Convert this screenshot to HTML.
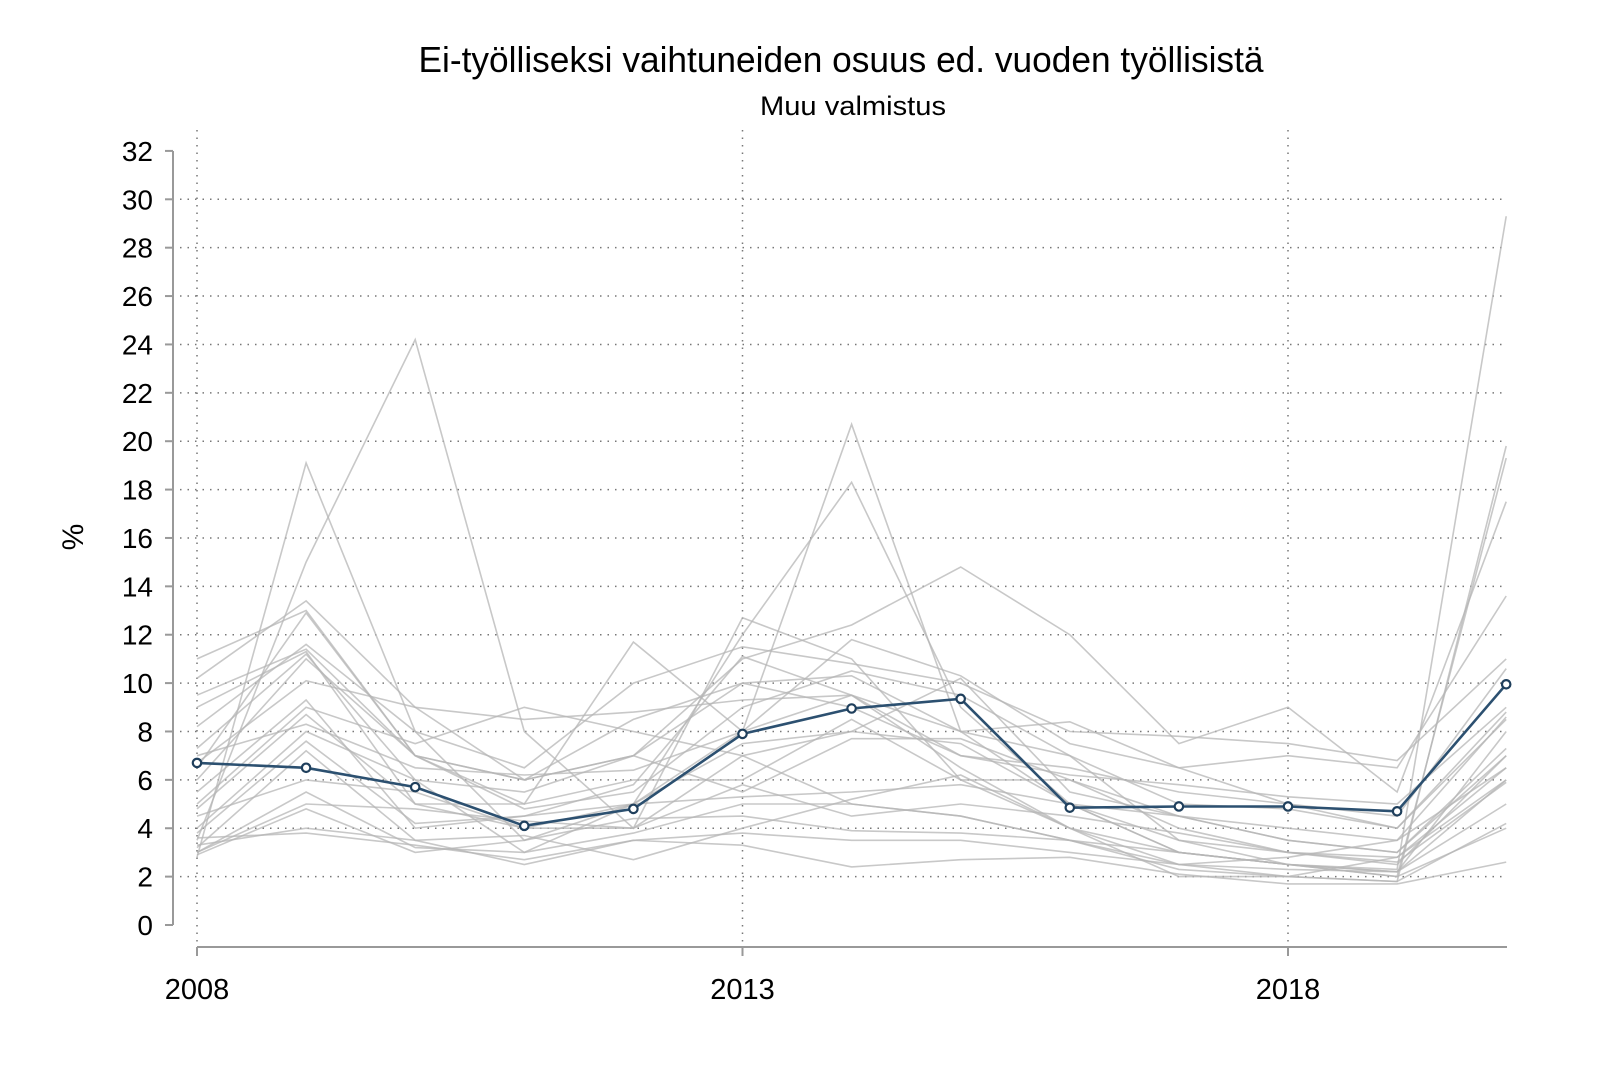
<!DOCTYPE html>
<html><head><meta charset="utf-8"><style>
html,body{margin:0;padding:0;background:#fff}
svg{display:block;font-family:"Liberation Sans",Arial,sans-serif}
</style></head><body>
<svg id="c" width="1600" height="1067" viewBox="0 0 1600 1067" xmlns="http://www.w3.org/2000/svg">
<rect width="1600" height="1067" fill="#fff"/>
<text x="841" y="72" font-size="36" text-anchor="middle" fill="#000" textLength="845" lengthAdjust="spacingAndGlyphs">Ei-työlliseksi vaihtuneiden osuus ed. vuoden työllisistä</text>
<text x="853" y="115" font-size="27" text-anchor="middle" fill="#000" textLength="186" lengthAdjust="spacingAndGlyphs">Muu valmistus</text>
<text transform="translate(83,537) rotate(-90)" font-size="30" text-anchor="middle" fill="#000">%</text>
<g id="grid"></g>
<g id="gray" fill="none" stroke="#b5b5b5" stroke-width="1.6" stroke-opacity="0.75"></g>
<g id="axes"></g>
<g id="main"></g>
</svg>
<script>
const NS="http://www.w3.org/2000/svg";
const X=y=>197+(y-2008)*109.1, Y=v=>925-v*24.19;
function el(p,t,a,txt){const e=document.createElementNS(NS,t);for(const k in a)e.setAttribute(k,a[k]);if(txt!==undefined)e.textContent=txt;p.appendChild(e);return e;}
const g=document.getElementById('grid'),ax=document.getElementById('axes');
for(let v=2;v<=30;v+=2)el(g,'line',{x1:180,x2:1506,y1:Y(v),y2:Y(v),stroke:'#777','stroke-width':1.5,'stroke-dasharray':'1.5,6'});
for(const yr of [2008,2013,2018])el(g,'line',{x1:X(yr),x2:X(yr),y1:130,y2:947,stroke:'#777','stroke-width':1.5,'stroke-dasharray':'1.5,6'});
el(ax,'line',{x1:173,x2:173,y1:151,y2:925,stroke:'#999','stroke-width':2});
for(let v=0;v<=32;v+=2){el(ax,'line',{x1:165,x2:173,y1:Y(v),y2:Y(v),stroke:'#999','stroke-width':2});
el(ax,'text',{x:153,y:Y(v)+10,'font-size':28,'text-anchor':'end',fill:'#000'},v);}
el(ax,'line',{x1:197,x2:1507,y1:947,y2:947,stroke:'#999','stroke-width':2});
for(const yr of [2008,2013,2018]){el(ax,'line',{x1:X(yr),x2:X(yr),y1:947,y2:956,stroke:'#999','stroke-width':2});
el(ax,'text',{x:X(yr),y:999,'font-size':29,'text-anchor':'middle',fill:'#000'},yr);}
const S=[
[2.8,19.1,8,3.5,5,8,20.7,8,5,3,2.5,2.3,29.3],
[3.5,15,24.2,8,4,12.7,11,6,4,2,2,1.8,19.8],
[9,11.3,5,4,5,12,18.3,9,5,3,2.5,2,19.3],
[10.2,13.4,9,6,7,11,12.4,14.8,12,7.5,9,5.5,17.5],
[11,13,7,5,11.7,8,11.8,10.3,7.5,6.5,7,6.5,13.6],
[8.2,11.6,8,6.5,10,11.5,10.8,10,8,7.8,7.5,6.8,11],
[6.7,10.1,9,8.5,8.8,9.3,9.5,8,8.4,6.5,5,4.5,10.6],
[6,11,7,6,8.5,10,9,7,6.5,5.5,5,4,8.8],
[5,9,7.5,9,8,7,8,7.5,5,4.5,4,3.5,8.6],
[4.8,8.7,5,5,6,6,8.5,6,6,4.5,3.5,3,7.3],
[4,8,6,5.5,7,5.5,7.7,7.7,6,4,3,2.5,7],
[3.8,7.6,4.2,4.5,5,5.3,5.5,5.8,5,3.5,3,2.8,6.5],
[3.2,7.2,3.5,3.7,2.7,4,5.2,6.2,4,3,2.5,2.2,6],
[3,5,4.8,4.3,4,5.8,4.5,5,4.5,3.8,3,2.6,5.9],
[2.9,4.8,3,3.5,4.4,4.5,3.9,3.8,3.5,2.5,2,1.8,4.2],
[3.6,3.8,3.3,2.7,3.5,3.3,2.4,2.7,2.8,2.1,1.7,1.7,2.6],
[6.5,12.9,7,4.8,5.5,9,10.5,9.5,7,3.5,2.5,2.2,8],
[7.3,11.2,6,3,5,7.5,8,10.2,5.5,4.5,3.5,3,7],
[5.5,9.3,4,4.5,5.8,11.1,9.5,6.5,4,2.5,2.8,3.5,6.5],
[3.3,4,3.5,2.5,3.5,3.8,3.5,3.5,3,2.5,2.3,2.2,5],
[9.5,11.4,7,6,7,10,10.3,8,7,5,4.8,4,8.5],
[4.5,6,5.5,4,4,7,5,4.5,3.5,2.3,2,2.8,6],
[7,8.3,6.5,6.2,6.4,8,9.5,7,6.2,5.8,5.3,5,9],
[3,5.5,3.2,3,3.8,5,5,4.5,3.5,3,2.5,2,4]];
const gr=document.getElementById('gray');
const pts=a=>a.map((v,i)=>X(2008+i).toFixed(1)+','+Y(v).toFixed(1)).join(' ');
S.forEach(s=>el(gr,'polyline',{points:pts(s)}));
const M=[6.7,6.5,5.7,4.1,4.8,7.9,8.95,9.35,4.85,4.9,4.9,4.7,9.95];
const m=document.getElementById('main');
el(m,'polyline',{points:pts(M),fill:'none',stroke:'#2c5070','stroke-width':2.6});
M.forEach((v,i)=>el(m,'circle',{cx:X(2008+i),cy:Y(v),r:4.2,fill:'#fff',stroke:'#1f3f5c','stroke-width':2.2}));
</script>
</body></html>
